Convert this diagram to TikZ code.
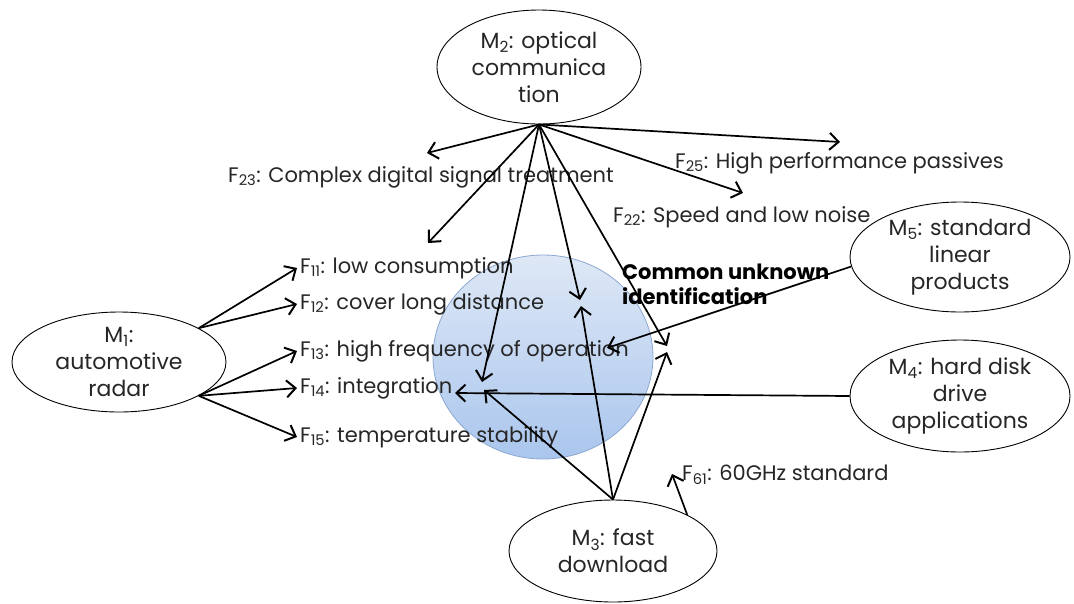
\documentclass[tikz,border=0pt]{standalone}
\usepackage{fontspec}
\setmainfont{Poppins}
\usetikzlibrary{shapes.geometric,arrows.meta}

\definecolor{txtgray}{RGB}{38,38,38}
\definecolor{bluetop}{RGB}{222,232,246}
\definecolor{bluebot}{RGB}{170,198,237}
\definecolor{blueedge}{RGB}{140,168,210}

\tikzset{
  market/.style={ellipse,draw,line width=0.9pt,fill=white,text=txtgray,align=center,
    inner sep=0pt,font=\fontsize{22}{27}\selectfont},
  feature/.style={anchor=west,text=txtgray,inner sep=3pt,
    font=\fontsize{21}{24}\selectfont},
  link/.style={-{Straight Barb[length=9pt,width=17pt,line width=2pt]},line width=1.7pt},
}

\begin{document}
\begin{tikzpicture}[x=1pt,y=-1pt]
\useasboundingbox (0,0) rectangle (1074,603);

% common area
\shade[top color=bluetop,bottom color=bluebot,draw=blueedge,line width=0.8pt]
  (543,357) ellipse (110 and 102);

% markets
\node[market,minimum width=204,minimum height=114] (m2) at (539,67)
  {M\textsubscript{2}: optical\\communica\\tion};
\node[market,minimum width=214,minimum height=100] (m1) at (119,362)
  {M\textsubscript{1}:\\automotive\\radar};
\node[market,minimum width=208,minimum height=102] (m3) at (613,551)
  {M\textsubscript{3}: fast\\download};
\node[market,minimum width=220,minimum height=110] (m5) at (960,257)
  {M\textsubscript{5}: standard\\linear\\products};
\node[market,minimum width=220,minimum height=112] (m4) at (960,396)
  {M\textsubscript{4}: hard disk\\drive\\applications};

% features
\node[feature] (f11) at (297,268) {F\textsubscript{11}: low consumption};
\node[feature] (f12) at (297,304) {F\textsubscript{12}: cover long distance};
\node[feature] (f13) at (297,351) {F\textsubscript{13}: high frequency of operation};
\node[feature] (f14) at (297,388) {F\textsubscript{14}: integration};
\node[feature] (f15) at (297,437) {F\textsubscript{15}: temperature stability};
\node[feature] (f23) at (225,177) {F\textsubscript{23}: Complex digital signal treatment};
\node[feature] (f25) at (672,163) {F\textsubscript{25}: High performance passives};
\node[feature] (f22) at (610,217) {F\textsubscript{22}: Speed and low noise};
\node[feature] (f61) at (679,475) {F\textsubscript{61}: 60GHz standard};
\node[feature,align=left,font=\fontsize{21}{25}\selectfont\bfseries,text=black]
  (common) at (619,284) {Common unknown\\identification};

% arrow ends
\coordinate (c23) at (427,153);
\coordinate (c11) at (428,243);
\coordinate (c14a) at (482,382);
\coordinate (c12a) at (580,300);
\coordinate (c13a) at (667,346);
\coordinate (c22) at (743,193);
\coordinate (c25) at (840,142);
\coordinate (c14b) at (484,390);
\coordinate (c12b) at (581,306);
\coordinate (c13b) at (667,352);
\coordinate (c61) at (672,474);
\coordinate (c5) at (607,348);
\coordinate (c4) at (455,393);

% M1
\draw[link] (m1.23) -- (f11.west);
\draw[link] (m1.23) -- (f12.west);
\draw[link] (m1.-23) -- (f13.west);
\draw[link] (m1.-23) -- (f14.west);
\draw[link] (m1.-23) -- (f15.west);
% M2
\foreach \t in {c23,c11,c14a,c12a,c13a,c22,c25}
  \draw[link] (m2.south) -- (\t);
% M3
\foreach \t in {c14b,c12b,c13b}
  \draw[link] (m3.north) -- (\t);
\draw[link] (m3.26) -- (c61);
% M5, M4
\draw[link] (m5.185) -- (c5);
\draw[link] (m4.west) -- (c4);
\end{tikzpicture}
\end{document}
